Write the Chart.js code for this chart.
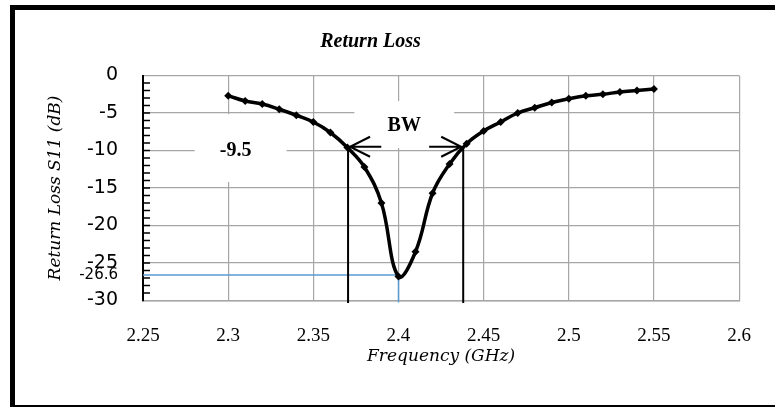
<!DOCTYPE html>
<html>
<head>
<meta charset="utf-8">
<script src="https://cdn.jsdelivr.net/npm/chart.js@4.4.0/dist/chart.umd.min.js"></script>
<style>
  html, body { margin: 0; padding: 0; background: #fff; }
  #wrap { width: 775px; height: 408px; position: relative; }
</style>
</head>
<body>
<div id="wrap"><canvas id="rl" width="775" height="408"></canvas></div>
<script>
// measured S11 curve, one point every 10 MHz
const freqs = [2.30, 2.31, 2.32, 2.33, 2.34, 2.35, 2.36, 2.37, 2.38, 2.39,
               2.40, 2.41, 2.42, 2.43, 2.44, 2.45, 2.46, 2.47, 2.48, 2.49,
               2.50, 2.51, 2.52, 2.53, 2.54, 2.55];
const returnLoss = [-2.7, -3.4, -3.8, -4.5, -5.3, -6.2, -7.6, -9.6, -12.2, -17.0,
                    -26.8, -23.5, -15.7, -11.8, -9.1, -7.4, -6.2, -5.0, -4.3, -3.6,
                    -3.1, -2.7, -2.5, -2.2, -2.0, -1.8];
const xTicks = [2.25, 2.3, 2.35, 2.4, 2.45, 2.5, 2.55, 2.6];
const yTicks = [0, -5, -10, -15, -20, -25, -26.6, -30];

// annotation values
const bwLevel = -9.5;
const bwLow = 2.3704;
const bwHigh = 2.438;
const minFreq = 2.4;
const minLoss = -26.6;

const serif = "'Liberation Serif', serif";
const slab = "'DejaVu Serif', serif";
const sans = "'DejaVu Sans', sans-serif";

const frame = {
    id: 'frame',
    afterDraw(chart) {
        const ctx = chart.ctx;
        ctx.save();
        ctx.fillStyle = '#000';
        ctx.fillRect(10, 5, 5, 402);
        ctx.fillRect(10, 5, 765, 5);
        ctx.fillRect(10, 405, 765, 2);
        ctx.restore();
    }
};

function arrow(ctx, x0, x1, y) {
    const dir = x1 > x0 ? 1 : -1;
    ctx.beginPath();
    ctx.moveTo(x0, y);
    ctx.lineTo(x1, y);
    ctx.moveTo(x1 - dir * 20, y - 10);
    ctx.lineTo(x1, y);
    ctx.lineTo(x1 - dir * 20, y + 10);
    ctx.stroke();
}

const marks = {
    id: 'marks',
    beforeDatasetsDraw(chart) {
        const ctx = chart.ctx;
        const xs = chart.scales.x, ys = chart.scales.y;
        const X = v => xs.getPixelForValue(v);
        const Y = v => ys.getPixelForValue(v);
        ctx.save();

        // minor ticks on the y axis, every 1 dB
        ctx.strokeStyle = '#000';
        ctx.lineWidth = 1.5;
        ctx.beginPath();
        for (let v = -29; v <= -1; v++) {
            ctx.moveTo(X(2.25), Y(v));
            ctx.lineTo(X(2.25) + 7, Y(v));
        }
        ctx.stroke();

        // white label boxes covering the grid
        ctx.fillStyle = '#fff';
        ctx.fillRect(X(2.2804), Y(-5.15), X(2.3343) - X(2.2804), Y(-14.2) - Y(-5.15));
        ctx.fillRect(X(2.3741), Y(-3.4), X(2.4327) - X(2.3741), Y(-9.67) - Y(-3.4));

        ctx.fillStyle = '#000';
        ctx.font = "bold 20px " + serif;
        ctx.textAlign = 'center';
        ctx.textBaseline = 'middle';
        ctx.fillText('-9.5', X(2.3044), Y(-10.0));
        ctx.fillText('BW', X(2.4034), Y(-6.7));

        // minimum marker
        ctx.strokeStyle = '#5b9bd5';
        ctx.lineWidth = 1.5;
        ctx.beginPath();
        ctx.moveTo(X(2.25), Y(minLoss));
        ctx.lineTo(X(minFreq), Y(minLoss));
        ctx.lineTo(X(minFreq), Y(-30) + 2);
        ctx.stroke();

        // bandwidth limits
        ctx.strokeStyle = '#000';
        ctx.lineWidth = 2;
        ctx.beginPath();
        ctx.moveTo(X(bwLow), Y(bwLevel));
        ctx.lineTo(X(bwLow), Y(-30) + 2.5);
        ctx.moveTo(X(bwHigh), Y(bwLevel));
        ctx.lineTo(X(bwHigh), Y(-30) + 2.5);
        ctx.stroke();

        arrow(ctx, X(2.3899), X(bwLow) + 2, Y(bwLevel));
        arrow(ctx, X(2.418), X(bwHigh) - 2, Y(bwLevel));
        ctx.restore();
    }
};

new Chart(document.getElementById('rl'), {
    type: 'line',
    data: {
        datasets: [
            {
                label: 'S11',
                data: freqs.map((f, i) => ({ x: f, y: returnLoss[i] })),
                borderColor: '#000',
                backgroundColor: '#000',
                borderWidth: 3.5,
                pointStyle: 'rectRot',
                pointRadius: 4,
                pointBorderWidth: 0,
                tension: 0.4,
                fill: false,
            },
        ],
    },
    options: {
        responsive: false,
        animation: false,
        layout: { padding: { left: 0, right: 34, top: 0, bottom: 0 } },
        plugins: {
            legend: { display: false },
            tooltip: { enabled: false },
            title: {
                display: true,
                text: 'Return Loss',
                color: '#000',
                font: { family: serif, style: 'italic', weight: 'bold', size: 20 },
                padding: { top: 30, bottom: 21.5 },
            },
        },
        scales: {
            x: {
                type: 'linear',
                min: 2.25,
                max: 2.6,
                afterBuildTicks: s => { s.ticks = xTicks.map(v => ({ value: v })); },
                afterFit: s => { s.height = 107.5; },
                grid: { color: '#a6a6a6', lineWidth: 1.2, drawTicks: false },
                border: { color: '#a6a6a6', width: 1.5 },
                ticks: {
                    color: '#000',
                    padding: 24,
                    autoSkip: false,
                    maxRotation: 0,
                    font: { family: serif, size: 19 },
                    callback: v => String(+v.toFixed(2)),
                },
                title: {
                    display: true,
                    text: 'Frequency (GHz)',
                    color: '#000',
                    font: { family: slab, style: 'italic', size: 17 },
                    padding: { top: 0, bottom: 41 },
                },
            },
            y: {
                min: -30,
                max: 0,
                afterBuildTicks: s => { s.ticks = yTicks.map(v => ({ value: v })); },
                afterFit: s => { s.width = 143; },
                grid: {
                    color: c => (c.tick && c.tick.value === minLoss ? 'rgba(0,0,0,0)' : '#a6a6a6'),
                    lineWidth: 1.2,
                    drawTicks: false,
                },
                border: { color: '#000', width: 2 },
                ticks: {
                    color: '#000',
                    padding: 25,
                    autoSkip: false,
                    font: c => (c.tick && c.tick.value === minLoss
                        ? { family: sans, size: 15 }
                        : { family: sans, size: 19 }),
                    callback: v => String(v),
                },
                title: {
                    display: true,
                    text: 'Return Loss S11 (dB)',
                    color: '#000',
                    font: { family: slab, style: 'italic', size: 17 },
                    padding: { top: 45, bottom: 0 },
                },
            },
        },
    },
    plugins: [frame, marks],
});
</script>
</body>
</html>
